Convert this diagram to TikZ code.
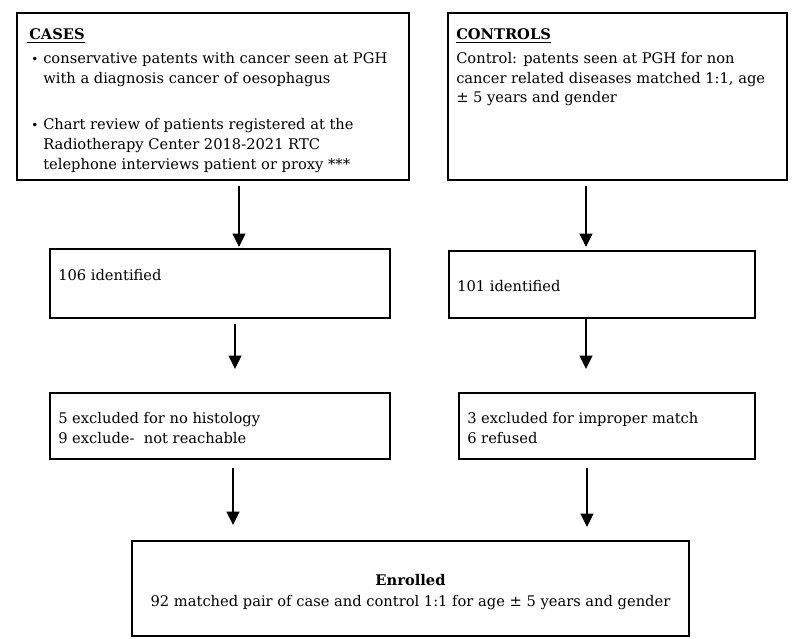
\documentclass[tikz,border=0pt]{standalone}
\usepackage{fontspec}
\setmainfont{DejaVu Serif}
\usetikzlibrary{arrows.meta,fit}
\begin{document}
\begin{tikzpicture}[x=0.75pt,y=-0.75pt,
  box/.style={draw, line width=2.1pt, inner sep=0pt, outer sep=0pt},
  txt/.style={inner sep=0pt, anchor=base west, align=left, font=\fontsize{11}{15}\selectfont},
  arr/.style={line width=1.4pt, -{Triangle[width=9.5pt,length=10pt]}}]
\useasboundingbox (0,0) rectangle (800,639);
% boxes
\node[box, fit={(17,13) (409,180)}] (cases) {};
\node[box, fit={(448,13) (787,180)}] (controls) {};
\node[box, fit={(50,249) (390,318)}] (id1) {};
\node[box, fit={(449,251) (755,318)}] (id2) {};
\node[box, fit={(50,393) (390,459)}] (ex1) {};
\node[box, fit={(459,393) (755,459)}] (ex2) {};
\node[box, fit={(132,541) (689,636)}] (enr) {};
% texts (base anchor = baseline of the last line)
\node[txt] (casesH) at (27,40) {\underline{\hspace{1.5pt}\textbf{CASES}}};
\node[txt] (casesB) at (31,169.5) {\makebox[9pt][l]{\small•}conservative patents with cancer seen at PGH\\
\hspace*{9pt}with a diagnosis cancer of oesophagus\\[19.5pt]
\makebox[9pt][l]{\small•}Chart review of patients registered at the\\
\hspace*{9pt}Radiotherapy Center 2018-2021 RTC\\
\hspace*{9pt}telephone interviews patient or proxy ***};
\node[txt] (controlsH) at (456,40) {\underline{\textbf{CONTROLS}}};
\node[txt, font=\fontsize{11}{14.6}\selectfont] (controlsT) at (456,102.5) {Control: patents seen at PGH for non\\
cancer related diseases matched 1:1, age\\
± 5 years and gender};
\node[txt] (id1T) at (58,280) {106 identified};
\node[txt] (id2T) at (457,291) {101 identified};
\node[txt] (ex1T) at (58,443) {5 excluded for no histology\\9 exclude-\ \ not reachable};
\node[txt] (ex2T) at (467,443) {3 excluded for improper match\\6 refused};
\node[txt, anchor=base, align=center, font=\fontsize{11}{15.75}\selectfont] (enrT) at (410.5,606)
  {\textbf{Enrolled}\\92 matched pair of case and control 1:1 for age ± 5 years and gender};
% arrows
\draw[arr, shorten <=4.5pt, shorten >=1.5pt] (239,0 |- cases.south) -- (239,0 |- id1.north);
\draw[arr, shorten <=4.5pt, shorten >=3pt] (586,0 |- controls.south) -- (586,0 |- id2.north);
\draw[arr, shorten <=4.5pt, shorten >=18pt] (235,0 |- id1.south) -- (235,0 |- ex1.north);
\draw[arr, shorten >=18pt] (586,0 |- id2.south) -- (586,0 |- ex2.north);
\draw[arr, shorten <=6.75pt, shorten >=12pt] (233,0 |- ex1.south) -- (233,0 |- enr.north);
\draw[arr, shorten <=6.75pt, shorten >=10.5pt] (587,0 |- ex2.south) -- (587,0 |- enr.north);
\end{tikzpicture}
\end{document}
